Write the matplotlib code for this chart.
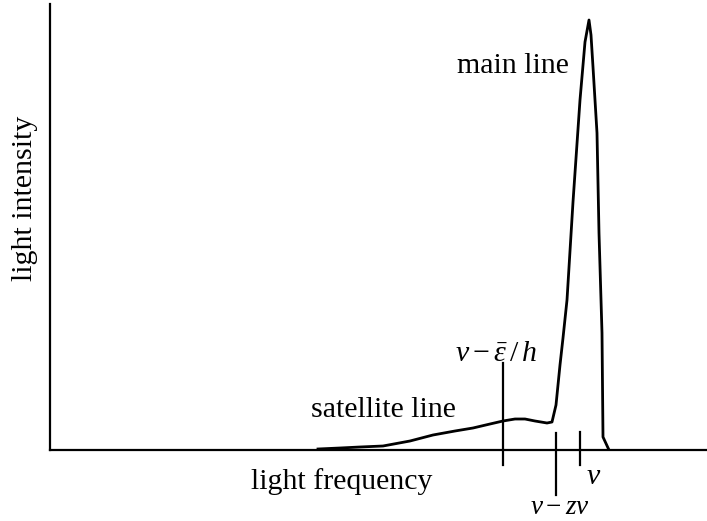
#!/usr/bin/env python3
"""
Sketch of a spectral line with its satellite line (light intensity vs light frequency).
"""

import matplotlib
matplotlib.use('Agg')
import matplotlib.pyplot as plt

# curve (arbitrary units)
frequency = [268, 290, 310, 333, 360, 383, 405, 423, 440, 453, 465, 475, 485,
             497, 502, 506, 510, 513, 517, 523, 530, 535, 539, 541, 543, 547,
             549, 552, 553, 559]
intensity = [1, 2, 3, 4, 9, 15, 19, 22, 26, 29, 31, 31, 29,
             27, 28, 45, 85, 112, 150, 248, 350, 408, 430, 415, 383, 317,
             217, 117, 13, 0]

# marker lines: position, top, bottom
marker_pos = [453, 506, 530]
marker_top = [87, 17, 18]
marker_bottom = [-15, -45, -15]

plt.rcParams['font.family'] = ['Liberation Serif', 'DejaVu Serif']
plt.rcParams['mathtext.fontset'] = 'custom'
plt.rcParams['mathtext.rm'] = 'Liberation Serif'
plt.rcParams['mathtext.it'] = 'Liberation Serif:italic'

fig = plt.figure(figsize=(7.07, 5.21), dpi=100)
ax = fig.add_axes([50 / 707, 71 / 521, 657 / 707, 446 / 521])
ax.set_xlim(0, 657)
ax.set_ylim(0, 446)
ax.spines['top'].set_visible(False)
ax.spines['right'].set_visible(False)
ax.spines['left'].set_linewidth(1.6)
ax.spines['bottom'].set_linewidth(1.6)
ax.set_xticks([])
ax.set_yticks([])

ax.plot(frequency, intensity, color='black', lw=2.0, solid_joinstyle='round')

for pos, top, bottom in zip(marker_pos, marker_top, marker_bottom):
    ax.plot([pos, pos], [bottom, top], color='black', lw=1.6, clip_on=False)

fs = 21.5
ax.text(463, 384, 'main line', fontsize=fs, ha='center', va='center')
ax.text(333, 40, 'satellite line', fontsize=fs, ha='center', va='center')
ax.text(292, -32, 'light frequency', fontsize=fs, ha='center', va='center', clip_on=False)
ax.text(-25, 252, 'light intensity', fontsize=fs, ha='center', va='center',
        rotation=90, clip_on=False)
ax.text(446, 96, r'$\nu - \bar{\varepsilon}\,/\,h$', fontsize=fs, ha='center', va='center')
ax.text(510, -57, r'$\nu - z\nu$', fontsize=19.5, ha='center', va='center', clip_on=False)
ax.text(544, -27, r'$\nu$', fontsize=fs, ha='center', va='center', clip_on=False)

fig.savefig('out.png', dpi=100)
